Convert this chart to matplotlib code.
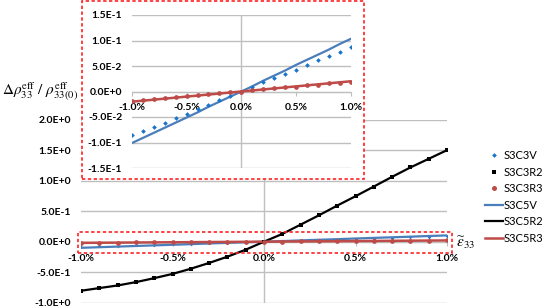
import numpy as np
import matplotlib
matplotlib.use('Agg')
import matplotlib.pyplot as plt
from matplotlib.patches import Rectangle
from matplotlib.lines import Line2D
from matplotlib.ticker import FuncFormatter

plt.rcParams['font.family'] = ['Lato', 'DejaVu Sans']
plt.rcParams['mathtext.fontset'] = 'stix'

# strain in %
strain = [-1.0, -0.9, -0.8, -0.7, -0.6, -0.5, -0.4, -0.3, -0.2, -0.1, 0.0,
          0.1, 0.2, 0.3, 0.4, 0.5, 0.6, 0.7, 0.8, 0.9, 1.0]

# scatter series (S3C3*)
s3c3v = [-0.086, -0.078, -0.069, -0.061, -0.052, -0.044, -0.035, -0.026, -0.017, -0.0085, 0.0,
         0.008, 0.018, 0.026, 0.035, 0.043, 0.052, 0.061, 0.069, 0.078, 0.087]
s3c3r2 = [-0.807, -0.763, -0.72, -0.665, -0.60, -0.53, -0.445, -0.35, -0.247, -0.132, 0.0,
          0.127, 0.28, 0.433, 0.593, 0.747, 0.906, 1.066, 1.22, 1.362, 1.504]
s3c3r3 = [-0.019, -0.017, -0.015, -0.013, -0.011, -0.0095, -0.0076, -0.0057, -0.0038, -0.0019, 0.0,
          0.002, 0.004, 0.006, 0.008, 0.0098, 0.0118, 0.0137, 0.0157, 0.0176, 0.0196]

# line series (S3C5*)
s3c5v = [-0.101, -0.091, -0.081, -0.071, -0.061, -0.051, -0.041, -0.030, -0.020, -0.010, 0.0,
         0.010, 0.021, 0.031, 0.041, 0.052, 0.062, 0.072, 0.082, 0.093, 0.103]
s3c5r2 = s3c3r2
s3c5r3 = [-0.020, -0.018, -0.016, -0.014, -0.012, -0.010, -0.008, -0.006, -0.004, -0.002, 0.0,
          0.002, 0.004, 0.006, 0.008, 0.010, 0.012, 0.014, 0.016, 0.018, 0.020]

main_yticks = [-1.0, -0.5, 0.0, 0.5, 1.0, 1.5, 2.0]
inset_yticks = [-0.15, -0.10, -0.05, 0.0, 0.05, 0.10, 0.15]
xticks = [-1.0, -0.5, 0.0, 0.5, 1.0]

c_dia = '#1874CD'
c_blue = '#4A7EBB'
c_red = '#BE4B48'
grid_c = '#BFBFBF'

def sci(v, pos):
    s = '%.1E' % v
    m, e = s.split('E')
    return '%sE%s%d' % (m, '+' if int(e) >= 0 else '-', abs(int(e)))

def pct(v, pos):
    return '%.1f%%' % v

fig = plt.figure(figsize=(5.45, 3.08), dpi=100)

def style(ax, ylim, yticks, fs, xpad):
    ax.set_xlim(-1.0, 1.0)
    ax.set_ylim(*ylim)
    ax.set_yticks(yticks)
    ax.set_xticks(xticks)
    ax.yaxis.set_major_formatter(FuncFormatter(sci))
    ax.xaxis.set_major_formatter(FuncFormatter(pct))
    for s in ['top', 'right', 'left']:
        ax.spines[s].set_visible(False)
    ax.spines['bottom'].set_position(('data', 0))
    ax.spines['bottom'].set_color(grid_c)
    ax.spines['bottom'].set_zorder(0.5)
    ax.tick_params(axis='y', length=0, pad=7, labelsize=fs)
    ax.tick_params(axis='x', length=3, color=grid_c, pad=xpad, labelsize=fs)
    for lab in ax.get_xticklabels() + ax.get_yticklabels():
        lab.set_fontweight('bold')
    ax.grid(axis='y', color=grid_c, lw=1.0, zorder=0)
    ax.set_axisbelow(True)
    ax.axvline(0, color=grid_c, lw=1.0, zorder=0.5)
    ax.patch.set_visible(False)

# main axes
ax = fig.add_axes([81/545, (308-302.5)/308, 366/545, 182.5/308])
style(ax, (-1.0, 2.0), main_yticks, 7.5, 6)
ax.plot(strain, s3c5v, color=c_blue, lw=1.6, zorder=3)
ax.plot(strain, s3c5r2, color='black', lw=1.6, zorder=3)
ax.plot(strain, s3c5r3, color=c_red, lw=1.8, zorder=3)
ax.plot(strain, s3c3v, ls='none', marker='D', ms=1.8, mew=0, color=c_dia, zorder=2)
ax.plot(strain, s3c3r2, ls='none', marker='s', ms=3.4, mew=0, color='black', zorder=4)
ax.plot(strain, s3c3r3, ls='none', marker='o', ms=3.4, mew=0, color=c_red, zorder=4)
ax.add_patch(Rectangle((-1.016, -0.18), 2.043, 0.345, fill=False, ec='#FF2020',
                       ls=(0, (2, 1.5)), lw=1.2, clip_on=False, zorder=5))
ax.text(1.05, -0.02, r'$\widetilde{\varepsilon}_{33}$', fontsize=11, ha='left', va='center')

# white background box for inset
fig.patches.append(Rectangle((82/545, 1-179/308), 282/545, 178/308, transform=fig.transFigure,
                             fc='white', ec='#FF2020', ls=(0, (2, 1.5)), lw=1.2, zorder=1.5))

# inset axes
ax2 = fig.add_axes([132/545, (308-168)/308, 218.5/545, 153/308])
ax2.set_zorder(2)
style(ax2, (-0.15, 0.15), inset_yticks, 7.5, 5)
ax2.plot(strain, s3c5v, color=c_blue, lw=1.6, zorder=3)
ax2.plot(strain, s3c5r3, color=c_red, lw=1.8, zorder=3)
ax2.plot(strain, s3c3v, ls='none', marker='D', ms=2.4, mew=0, color=c_dia, zorder=4)
ax2.plot(strain, s3c3r3, ls='none', marker='o', ms=3.4, mew=0, color=c_red, zorder=4)

# y label
fig.text(40/545, 1-92/308, r'$\Delta\rho_{33}^{\mathrm{eff}}\ /\ \rho_{33(0)}^{\mathrm{eff}}$',
         fontsize=11, ha='center', va='center')

# legend
handles = [
    Line2D([], [], ls='none', marker='D', ms=2.4, mew=0, color=c_dia),
    Line2D([], [], ls='none', marker='s', ms=3.4, mew=0, color='black'),
    Line2D([], [], ls='none', marker='o', ms=3.6, mew=0, color=c_red),
    Line2D([], [], color=c_blue, lw=1.6),
    Line2D([], [], color='black', lw=1.6),
    Line2D([], [], color=c_red, lw=1.8),
]
labels = ['S3C3V', 'S3C3R2', 'S3C3R3', 'S3C5V', 'S3C5R2', 'S3C5R3']
fig.legend(handles, labels, loc='upper left', bbox_to_anchor=(485/545, 1-150/308),
           frameon=False, fontsize=8, handlelength=1.6, handletextpad=0.1,
           labelspacing=0.5, borderpad=0, borderaxespad=0)

fig.savefig('out.png', dpi=100)
